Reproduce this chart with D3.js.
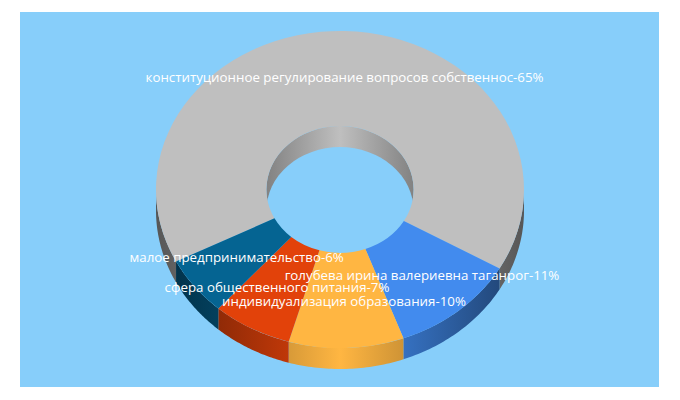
<!DOCTYPE html>
<html>
<head>
<meta charset="utf-8">
<script src="https://cdn.jsdelivr.net/npm/d3@7"></script>
<style>
  html, body { margin: 0; padding: 0; background: #fff; }
  svg { display: block; }
  text { font-family: "Open Sans", sans-serif; font-size: 13.3px; fill: #fff; }
</style>
</head>
<body>
<script>
const labels = [
  "конституционное регулирование вопросов собственнос-65%",
  "голубева ирина валериевна таганрог-11%",
  "индивидуализация образования-10%",
  "сфера общественного питания-7%",
  "малое предпринимательство-6%"
];
const values = [65.8, 11.1, 10.1, 7, 6];
const colors = ["#bfbfbf", "#428bee", "#ffb642", "#e2420a", "#056492"];
const labelX = [344.5, 422, 344, 277, 236.7];
const labelY = [77, 275, 301, 287, 257];

const width = 680, height = 400;
const cx = 340, cy = 189.5, rx = 184, ry = 158.5, depth = 21;
const holeRatio = 0.4;

const svg = d3.select("body").append("svg")
  .attr("width", width)
  .attr("height", height);

svg.append("rect")
  .attr("x", 20).attr("y", 12)
  .attr("width", 639).attr("height", 375)
  .attr("fill", "#87cefa");

const defs = svg.append("defs");

// side shading: full colour in the middle, dark toward both edges
function sideGradient(id, color, x1, x2, edge) {
  const g = defs.append("linearGradient")
    .attr("id", id)
    .attr("gradientUnits", "userSpaceOnUse")
    .attr("x1", x1).attr("x2", x2)
    .attr("y1", 0).attr("y2", 0);
  const c = d3.color(color);
  const dark = d3.rgb(c.r * edge, c.g * edge, c.b * edge);
  g.append("stop").attr("offset", "0%").attr("stop-color", dark);
  g.append("stop").attr("offset", "50%").attr("stop-color", c);
  g.append("stop").attr("offset", "100%").attr("stop-color", dark);
}
colors.forEach((c, i) => sideGradient("side" + i, c, cx - rx, cx + rx, 0.45));
sideGradient("inner", colors[0], cx - rx * holeRatio, cx + rx * holeRatio, 0.68);

const startAngle = -117 * Math.PI / 180;
const pie = d3.pie().sort(null)
  .startAngle(startAngle)
  .endAngle(startAngle + 2 * Math.PI);
const slices = pie(values);

// outer wall, only the part facing the viewer (90deg..270deg clockwise from top)
const ex = a => cx + rx * Math.sin(a);
const ey = a => cy - ry * Math.cos(a);
function wallPath(d) {
  const tau = 2 * Math.PI;
  const parts = [];
  [0, tau].forEach(off => {
    const a0 = Math.max(d.startAngle + off, Math.PI / 2);
    const a1 = Math.min(d.endAngle + off, Math.PI * 1.5);
    if (a1 > a0) parts.push([a0, a1]);
  });
  return parts.map(([a0, a1]) => {
    const n = 40;
    const angles = d3.range(n + 1).map(k => a0 + (a1 - a0) * k / n);
    const pts = angles.map(a => [ex(a), ey(a)])
      .concat(angles.slice().reverse().map(a => [ex(a), ey(a) + depth]));
    return d3.line()(pts) + "Z";
  }).join("");
}

svg.append("g").selectAll("path")
  .data(slices)
  .join("path")
  .attr("d", wallPath)
  .attr("fill", (d, i) => `url(#side${i})`);

// hole: far inner wall, then the background seen through it
svg.append("ellipse")
  .attr("cx", cx).attr("cy", cy)
  .attr("rx", rx * holeRatio).attr("ry", ry * holeRatio)
  .attr("fill", "url(#inner)");
svg.append("ellipse")
  .attr("cx", cx).attr("cy", cy + depth)
  .attr("rx", rx * holeRatio).attr("ry", ry * holeRatio)
  .attr("fill", "#87cefa");

// top face: unit arcs squashed into the ellipse
const arc = d3.arc().innerRadius(holeRatio).outerRadius(1);
svg.append("g")
  .attr("transform", `translate(${cx},${cy}) scale(${rx},${ry})`)
  .selectAll("path")
  .data(slices)
  .join("path")
  .attr("d", arc)
  .attr("fill", (d, i) => colors[i]);

svg.append("g").selectAll("text")
  .data(labels)
  .join("text")
  .attr("x", (d, i) => labelX[i])
  .attr("y", (d, i) => labelY[i])
  .attr("dy", "0.35em")
  .attr("text-anchor", "middle")
  .text(d => d);
</script>
</body>
</html>
